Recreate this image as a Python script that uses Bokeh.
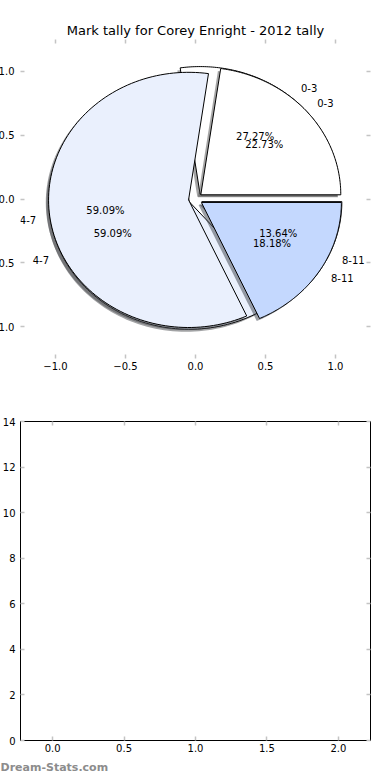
import numpy as np
from bokeh.plotting import figure
from bokeh.models import Range1d, LinearAxis, FixedTicker, ColumnDataSource, Title
from bokeh.layouts import column
from bokeh.embed import file_html
from bokeh.resources import INLINE
from bokeh.core.properties import value

# ---------------- data ----------------
title_text = "Mark tally for Corey Enright - 2012 tally"
categories = ["0-3", "4-7", "8-11"]
back_counts = [6, 13, 3]     # 27.27 %, 59.09 %, 13.64 %
front_counts = [5, 13, 4]    # 22.73 %, 59.09 %, 18.18 %
slice_colors = ["#FFFFFF", "#EAF0FD", "#C4D8FE"]
pie_ticks = [-1.0, -0.5, 0.0, 0.5, 1.0]
bottom_x_ticks = [0.0, 0.5, 1.0, 1.5, 2.0]
bottom_y_ticks = [0, 2, 4, 6, 8, 10, 12, 14]
watermark = "Dream-Stats.com"

# ---------------- style ----------------
FONT = "DejaVu Sans"
TICK_COLOR = "#C4C4C4"
EXPLODE = 0.05
SHADOW_OFF = 0.02
W = 404


def shadow_color(hexcol):
    r, g, b = (int(hexcol[i:i + 2], 16) for i in (1, 3, 5))
    return "#%02x%02x%02x" % (int(r * 0.3), int(g * 0.3), int(b * 0.3))


def pie_parts(counts):
    total = float(sum(counts))
    start = 0.0
    wedges = dict(xs=[], ys=[], fill=[], sxs=[], sys=[], sfill=[])
    lab = dict(x=[], y=[], text=[], right=[])
    pct = dict(x=[], y=[], text=[])
    for cat, c, col in zip(categories, counts, slice_colors):
        frac = c / total
        t1, t2 = start, start + 360.0 * frac
        mid = np.radians((t1 + t2) / 2.0)
        cx, cy = EXPLODE * np.cos(mid), EXPLODE * np.sin(mid)
        th = np.radians(np.linspace(t1, t2, 120))
        xs = np.concatenate([[cx], cx + np.cos(th), [cx]])
        ys = np.concatenate([[cy], cy + np.sin(th), [cy]])
        wedges["xs"].append(list(xs))
        wedges["ys"].append(list(ys))
        wedges["fill"].append(col)
        wedges["sxs"].append(list(xs - SHADOW_OFF))
        wedges["sys"].append(list(ys - SHADOW_OFF))
        wedges["sfill"].append(shadow_color(col))
        lx, ly = cx + 1.1 * np.cos(mid), cy + 1.1 * np.sin(mid)
        lab["x"].append(lx)
        lab["y"].append(ly)
        lab["text"].append(cat)
        lab["right"].append(lx < 0)
        pct["x"].append(cx + 0.6 * np.cos(mid))
        pct["y"].append(cy + 0.6 * np.sin(mid))
        pct["text"].append("%.2f%%" % (100.0 * frac))
        start = t2
    return wedges, lab, pct


def style_axis(ax, labels=True, line=None):
    ax.major_tick_in = 4
    ax.major_tick_out = 0
    ax.minor_tick_line_color = None
    ax.major_tick_line_color = TICK_COLOR
    ax.major_tick_line_width = 1.5
    ax.axis_line_color = line
    ax.major_label_text_font = FONT
    ax.major_label_text_font_size = "10px"
    ax.major_label_text_color = "black"
    if not labels:
        ax.major_label_text_color = None
        ax.major_label_standoff = 0


def fmt(t):
    return ("%.1f" % t).replace("-", "\u2212")


# ---------------- top: overlaid pies ----------------
p1 = figure(width=W, height=390, x_range=Range1d(-1.25, 1.25), y_range=Range1d(-1.25, 1.25),
            output_backend="svg", toolbar_location=None,
            min_border_left=34, min_border_right=20, min_border_top=39, min_border_bottom=32)
p1.outline_line_color = None
p1.grid.visible = False

for ax in (p1.xaxis[0], p1.yaxis[0]):
    ax.ticker = FixedTicker(ticks=pie_ticks)
    ax.major_label_overrides = {t: fmt(t) for t in pie_ticks}
    style_axis(ax)
p1.xaxis[0].major_label_standoff = 3
p1.yaxis[0].major_label_standoff = 6
ax_top = LinearAxis(ticker=FixedTicker(ticks=pie_ticks))
style_axis(ax_top, labels=False)
ax_right = LinearAxis(ticker=FixedTicker(ticks=pie_ticks))
style_axis(ax_right, labels=False)
p1.add_layout(ax_top, "above")
p1.add_layout(ax_right, "right")

p1.title.text = title_text
p1.title.align = "center"
p1.title.text_font = FONT
p1.title.text_font_size = "13px"
p1.title.text_font_style = "normal"
p1.title.text_color = "black"
p1.title.standoff = 4

all_labels = []
all_pcts = []
for counts in (back_counts, front_counts):
    wd, lab, pct = pie_parts(counts)
    p1.patches(xs=wd["sxs"], ys=wd["sys"], fill_color=wd["sfill"], fill_alpha=0.5, line_color=None)
    p1.patches(xs=wd["xs"], ys=wd["ys"], fill_color=wd["fill"], line_color="black", line_width=1)
    all_labels.append(lab)
    all_pcts.append(pct)

for lab, pct in zip(all_labels, all_pcts):
    for right in (False, True):
        idx = [i for i, r in enumerate(lab["right"]) if r == right]
        src = ColumnDataSource(dict(x=[lab["x"][i] for i in idx], y=[lab["y"][i] for i in idx],
                                    text=[lab["text"][i] for i in idx]))
        p1.text(x="x", y="y", text="text", source=src, text_align="right" if right else "left",
                text_baseline="middle", text_font_size="10px", text_font=value(FONT),
                text_color="black")
    p1.text(x=pct["x"], y=pct["y"], text=pct["text"], text_align="center", text_baseline="middle",
            text_font_size="10px", text_font=value(FONT), text_color="black")

# ---------------- bottom: empty axes ----------------
p2 = figure(width=W, height=390, x_range=Range1d(-0.225, 2.225), y_range=Range1d(0, 14),
            output_backend="svg", toolbar_location=None,
            min_border_left=34, min_border_right=20, min_border_top=31, min_border_bottom=40)
p2.grid.visible = False
p2.outline_line_color = "black"
p2.outline_line_width = 1
p2.xaxis[0].ticker = FixedTicker(ticks=bottom_x_ticks)
p2.xaxis[0].major_label_overrides = {t: fmt(t) for t in bottom_x_ticks}
p2.yaxis[0].ticker = FixedTicker(ticks=bottom_y_ticks)
style_axis(p2.xaxis[0], line="black")
style_axis(p2.yaxis[0], line="black")
p2.xaxis[0].major_label_standoff = 3
p2.yaxis[0].major_label_standoff = 5
b_top = LinearAxis(ticker=FixedTicker(ticks=bottom_x_ticks))
style_axis(b_top, labels=False, line="black")
b_right = LinearAxis(ticker=FixedTicker(ticks=bottom_y_ticks))
style_axis(b_right, labels=False, line="black")
p2.add_layout(b_top, "above")
p2.add_layout(b_right, "right")

p2.add_layout(Title(text=watermark, align="left", offset=-20, standoff=9,
                    text_font=FONT, text_font_size="11px", text_color="#8c8c8c",
                    text_font_style="bold"), "below")

layout = column(p1, p2, margin=(0, 0, 0, -14), spacing=0)
open("out.html", "w").write(file_html(layout, INLINE))
